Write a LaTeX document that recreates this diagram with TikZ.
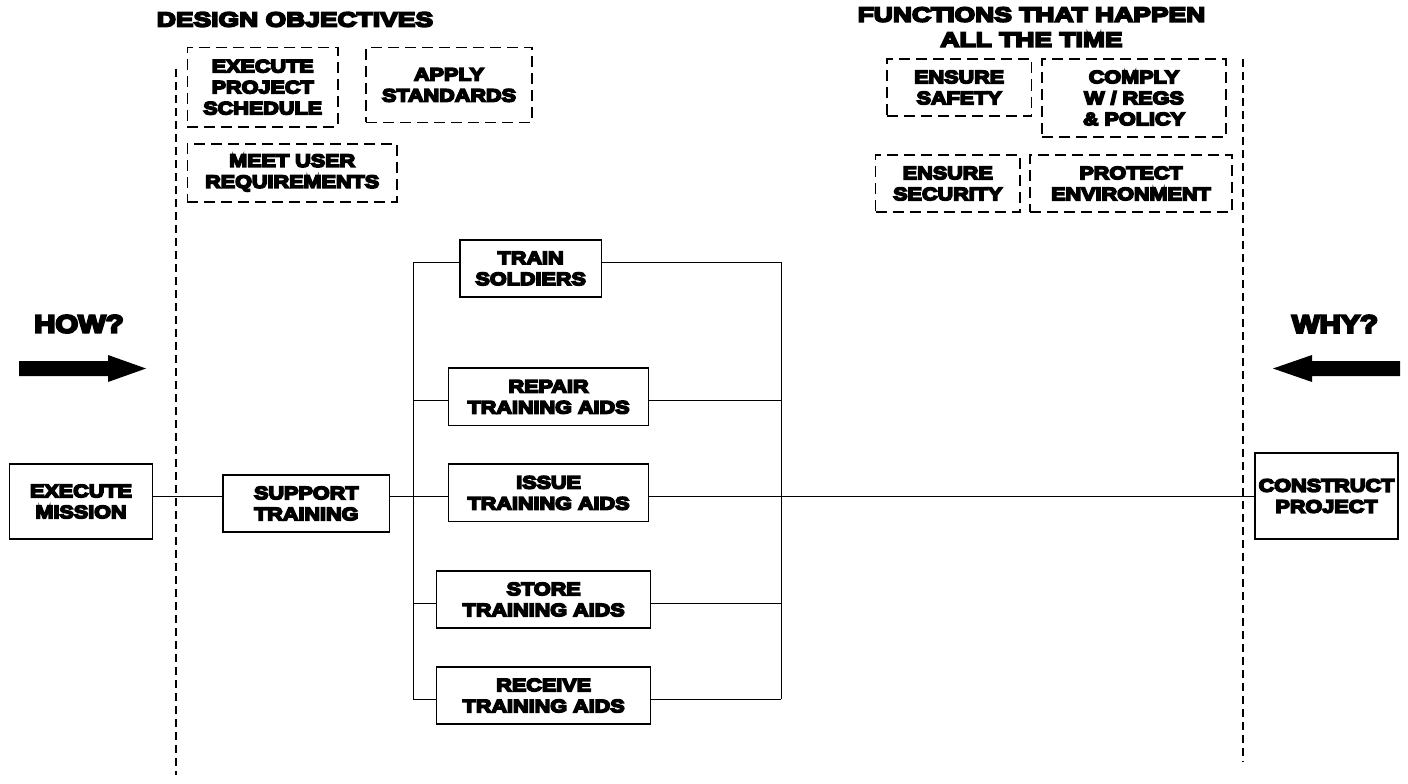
\documentclass[tikz,border=0pt]{standalone}
\usepackage{fontspec}
\newfontfamily\boxfont{Liberation Sans Bold}[FakeStretch=1.2,FakeBold=9]
\newfontfamily\titlefont{Liberation Sans Bold}[FakeStretch=1.29,FakeBold=9]
\newfontfamily\askfont{Liberation Sans Bold}[FakeStretch=1.17,FakeBold=9]
\begin{document}
\begin{tikzpicture}[x=1pt,y=-1pt,
  boxtext/.style={align=center, inner sep=0pt, font=\boxfont\fontsize{18}{21}\selectfont},
  solidbox/.style={boxtext, draw, line width=1.3pt},
  dashbox/.style={boxtext, draw, line width=1.6pt, dash pattern=on 11pt off 6pt},
  title/.style={align=center, inner sep=0pt, font=\titlefont\fontsize{20.5}{25}\selectfont},
  ask/.style={inner sep=0pt, font=\askfont\fontsize{25}{28}\selectfont},
  divider/.style={line width=1.1pt, dash pattern=on 8pt off 5pt},
  conn/.style={line width=1pt},
  bigarrow/.style={fill=black, draw=none}]
\useasboundingbox (0,0) rectangle (1408,784);
\fill[white] (0,0) rectangle (1408,784);

% titles
\node[title] (t1) at (295,19.5) {DESIGN OBJECTIVES};
\node[title] (t2) at (1031.5,27) {FUNCTIONS THAT HAPPEN\\ALL THE TIME};

% design objectives
\node[dashbox, minimum width=150.5pt, minimum height=79pt] (eps) at (262.7,87.2) {EXECUTE\\PROJECT\\SCHEDULE};
\node[dashbox, minimum width=166pt, minimum height=74.6pt] (aps) at (449,85) {APPLY\\STANDARDS};
\node[dashbox, minimum width=209.5pt, minimum height=57.7pt] (mur) at (292.2,172.9) {MEET USER\\REQUIREMENTS};

% functions all the time
\node[dashbox, minimum width=144.5pt, minimum height=57pt] (esf) at (959.2,87.5) {ENSURE\\SAFETY};
\node[dashbox, minimum width=184pt, minimum height=78pt] (cwr) at (1134,98) {COMPLY\\W / REGS\\\& POLICY};
\node[dashbox, minimum width=144.4pt, minimum height=57pt] (esc) at (947.8,183.5) {ENSURE\\SECURITY};
\node[dashbox, minimum width=202pt, minimum height=57pt] (pen) at (1131,183.5) {PROTECT\\ENVIRONMENT};

% dividers
\coordinate (ltop) at (176,69);
\coordinate (lbot) at (176,775);
\coordinate (rtop) at (1243,59);
\coordinate (rbot) at (1243,762);
\draw[divider] (ltop) -- (lbot);
\draw[divider] (rtop) -- (rbot);

% how / why
\node[ask] (how) at (79,324) {HOW?};
\node[ask] (why) at (1335,324) {WHY?};
\fill[bigarrow] (19,361) -- (108,361) -- (108,355) -- (146,368.5) -- (108,382) -- (108,376) -- (19,376) -- cycle;
\fill[bigarrow] (1400,361) -- (1312,361) -- (1312,355) -- (1273,368.5) -- (1312,382) -- (1312,376) -- (1400,376) -- cycle;

% function boxes
\node[solidbox, minimum width=143.3pt, minimum height=75pt] (em) at (81,501.5) {EXECUTE\\MISSION};
\node[solidbox, minimum width=166.6pt, minimum height=57pt] (sp) at (306.3,503.5) {SUPPORT\\TRAINING};
\node[solidbox, minimum width=141.5pt, minimum height=57pt] (ts) at (530.7,268.5) {TRAIN\\SOLDIERS};
\node[solidbox, minimum width=199.8pt, minimum height=57.7pt] (rp) at (548.6,396.9) {REPAIR\\TRAINING AIDS};
\node[solidbox, minimum width=199.8pt, minimum height=57.7pt] (is) at (548.6,492.9) {ISSUE\\TRAINING AIDS};
\node[solidbox, minimum width=214pt, minimum height=57pt] (sto) at (543.7,599.5) {STORE\\TRAINING AIDS};
\node[solidbox, minimum width=214pt, minimum height=57pt] (rc) at (543.7,695.5) {RECEIVE\\TRAINING AIDS};
\node[solidbox, minimum width=143pt, minimum height=86pt] (cp) at (1326.5,496) {CONSTRUCT\\PROJECT};

% bus rows
\coordinate (r1) at (0,262);
\coordinate (r2) at (0,400);
\coordinate (r3) at (0,496);
\coordinate (r4) at (0,603);
\coordinate (r5) at (0,699);
\coordinate (bl) at (413,0);
\coordinate (br) at (781,0);

\draw[conn] (em.east |- r3) -- (sp.west |- r3);
\draw[conn] (sp.east |- r3) -- (bl |- r3);
\draw[conn] (bl |- r1) -- (bl |- r5);
\draw[conn] (br |- r1) -- (br |- r5);
\draw[conn] (bl |- r1) -- (ts.west |- r1);
\draw[conn] (ts.east |- r1) -- (br |- r1);
\draw[conn] (bl |- r2) -- (rp.west |- r2);
\draw[conn] (rp.east |- r2) -- (br |- r2);
\draw[conn] (bl |- r3) -- (is.west |- r3);
\draw[conn] (is.east |- r3) -- (cp.west |- r3);
\draw[conn] (bl |- r4) -- (sto.west |- r4);
\draw[conn] (sto.east |- r4) -- (br |- r4);
\draw[conn] (bl |- r5) -- (rc.west |- r5);
\draw[conn] (rc.east |- r5) -- (br |- r5);
\end{tikzpicture}
\end{document}
